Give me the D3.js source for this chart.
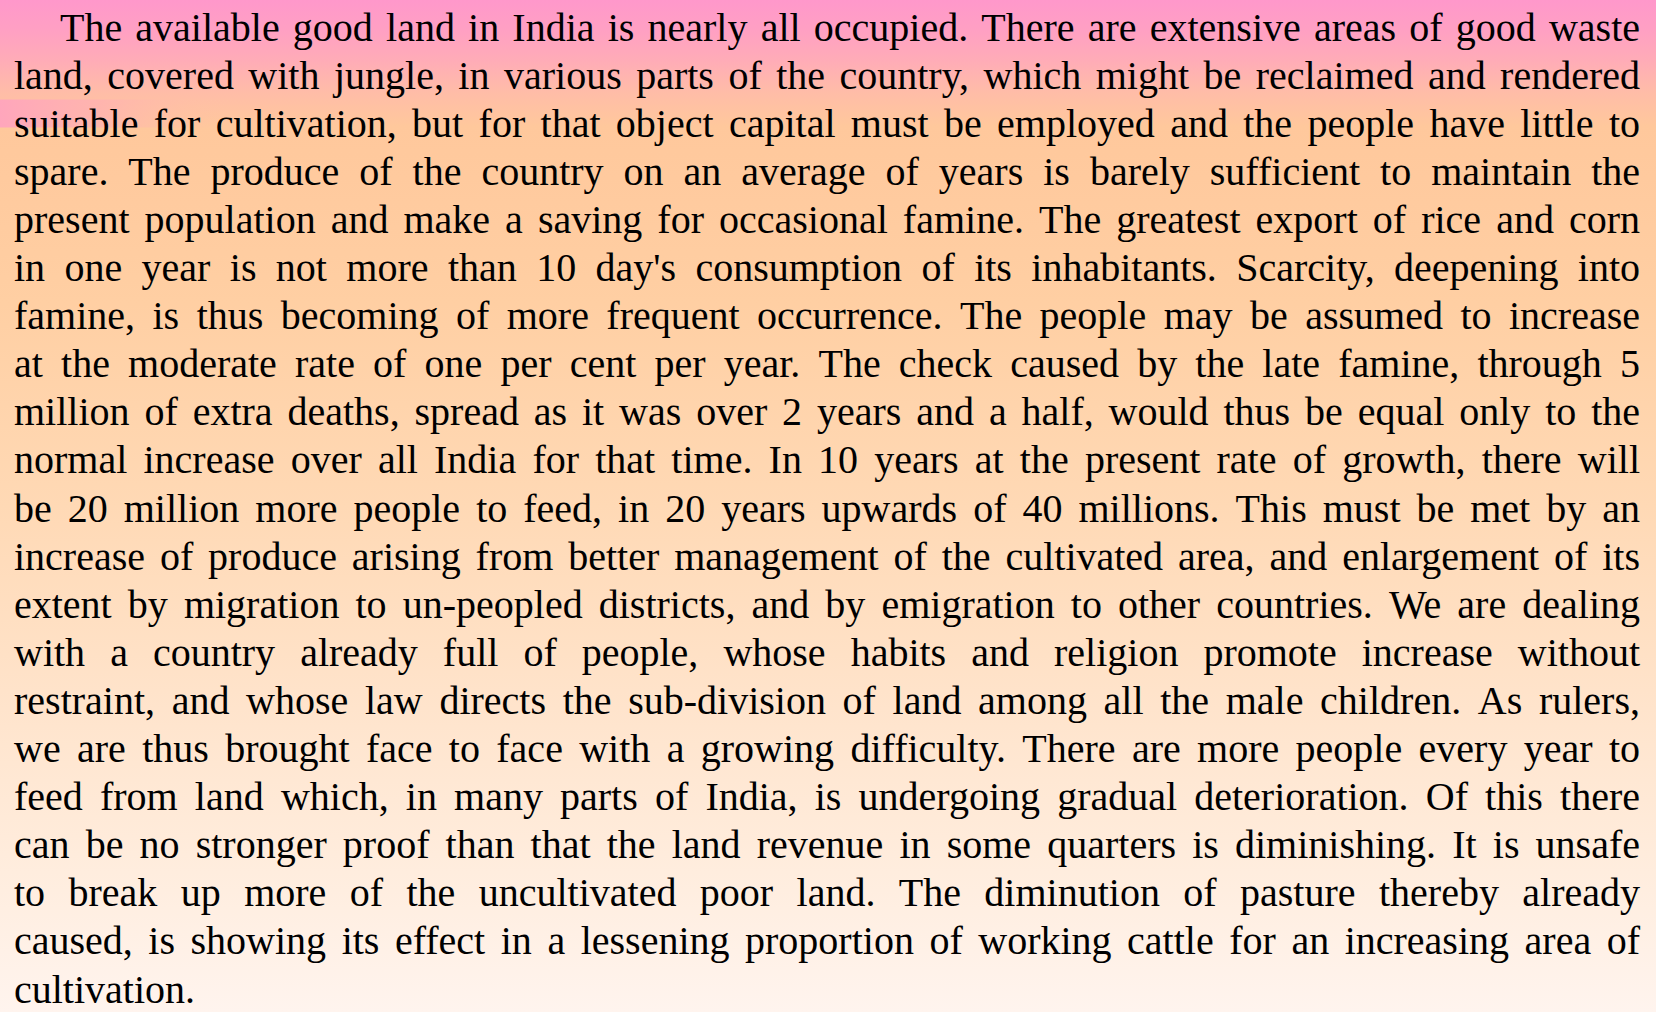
<!DOCTYPE html>
<html>
<head>
<meta charset="utf-8">
<script src="https://cdn.jsdelivr.net/npm/d3@7"></script>
<style>
  html, body { margin: 0; padding: 0; background: #fff; }
  svg { display: block; }
</style>
</head>
<body>
<div id="chart"></div>
<script>
// Paragraph lines, exactly as broken in the reference
const lines = [
  "The available good land in India is nearly all occupied. There are extensive areas of good waste",
  "land, covered with jungle, in various parts of the country, which might be reclaimed and rendered",
  "suitable for cultivation, but for that object capital must be employed and the people have little to",
  "spare. The produce of the country on an average of years is barely sufficient to maintain the",
  "present population and make a saving for occasional famine. The greatest export of rice and corn",
  "in one year is not more than 10 day's consumption of its inhabitants. Scarcity, deepening into",
  "famine, is thus becoming of more frequent occurrence. The people may be assumed to increase",
  "at the moderate rate of one per cent per year. The check caused by the late famine, through 5",
  "million of extra deaths, spread as it was over 2 years and a half, would thus be equal only to the",
  "normal increase over all India for that time. In 10 years at the present rate of growth, there will",
  "be 20 million more people to feed, in 20 years upwards of 40 millions. This must be met by an",
  "increase of produce arising from better management of the cultivated area, and enlargement of its",
  "extent by migration to un-peopled districts, and by emigration to other countries. We are dealing",
  "with a country already full of people, whose habits and religion promote increase without",
  "restraint, and whose law directs the sub-division of land among all the male children. As rulers,",
  "we are thus brought face to face with a growing difficulty. There are more people every year to",
  "feed from land which, in many parts of India, is undergoing gradual deterioration. Of this there",
  "can be no stronger proof than that the land revenue in some quarters is diminishing. It is unsafe",
  "to break up more of the uncultivated poor land. The diminution of pasture thereby already",
  "caused, is showing its effect in a lessening proportion of working cattle for an increasing area of",
  "cultivation."
];
const lineIndex = d3.range(lines.length);

const W = 1656, H = 1012;
const svg = d3.select("#chart").append("svg")
  .attr("width", W).attr("height", H)
  .attr("viewBox", `0 0 ${W} ${H}`);

const defs = svg.append("defs");
const bg = defs.append("linearGradient").attr("id", "bg")
  .attr("x1", 0).attr("y1", 0).attr("x2", 0).attr("y2", 1);
[
  [0.000, "#FF98CB"],
  [0.030, "#FFA0C3"],
  [0.060, "#FFACB7"],
  [0.090, "#FFBCA8"],
  [0.125, "#FFC89C"],
  [0.300, "#FFCFA3"],
  [0.500, "#FFD9B5"],
  [0.700, "#FFE4CC"],
  [0.880, "#FFEEE0"],
  [1.000, "#FFF4EE"]
].forEach(([o, c]) => bg.append("stop").attr("offset", o).attr("stop-color", c));

const strip = defs.append("linearGradient").attr("id", "strip")
  .attr("x1", 0).attr("y1", 0).attr("x2", 1).attr("y2", 0);
strip.append("stop").attr("offset", 0).attr("stop-color", "#FFA6BC").attr("stop-opacity", 1);
strip.append("stop").attr("offset", 0.45).attr("stop-color", "#FFB0B2").attr("stop-opacity", 0.7);
strip.append("stop").attr("offset", 1).attr("stop-color", "#FFC4A4").attr("stop-opacity", 0);

svg.append("rect").attr("width", W).attr("height", H).attr("fill", "url(#bg)");
svg.append("rect").attr("x", 0).attr("y", 99.5).attr("width", 230).attr("height", 28)
  .attr("fill", "url(#strip)");

// scales
const y = d3.scaleLinear().domain([0, lines.length - 1]).range([40.5, 40.5 + 48.1 * (lines.length - 1)]);
const left = 14, right = 1640, indent = 46;

const gLines = svg.append("g")
  .attr("font-family", "'Liberation Serif', 'Times New Roman', serif")
  .attr("font-size", 40)
  .attr("fill", "#000");

lineIndex.forEach(i => {
  const words = lines[i].split(/\s+/).filter(w => w.length);
  const x0 = left + (i === 0 ? indent : 0);
  const g = gLines.append("g").attr("class", "line");
  const texts = g.selectAll("text").data(words).join("text")
    .attr("y", y(i))
    .text(d => d);
  const widths = [];
  texts.each(function () { widths.push(this.getComputedTextLength()); });
  const total = d3.sum(widths);
  const isLast = i === lines.length - 1;
  const spaceW = 10;
  let gap = spaceW;
  if (!isLast && words.length > 1) gap = (right - x0 - total) / (words.length - 1);
  let scaleFactor = 1;
  if (gap < 6 && !isLast) {
    gap = 6;
    scaleFactor = (right - x0 - gap * (words.length - 1)) / total;
  }
  const xs = [];
  let cx = x0;
  widths.forEach((w) => { xs.push(cx); cx += w * scaleFactor + gap; });
  texts.attr("x", (d, k) => xs[k]);
  if (scaleFactor !== 1) {
    texts.attr("textLength", (d, k) => widths[k] * scaleFactor).attr("lengthAdjust", "spacingAndGlyphs");
  }
});
</script>
</body>
</html>
